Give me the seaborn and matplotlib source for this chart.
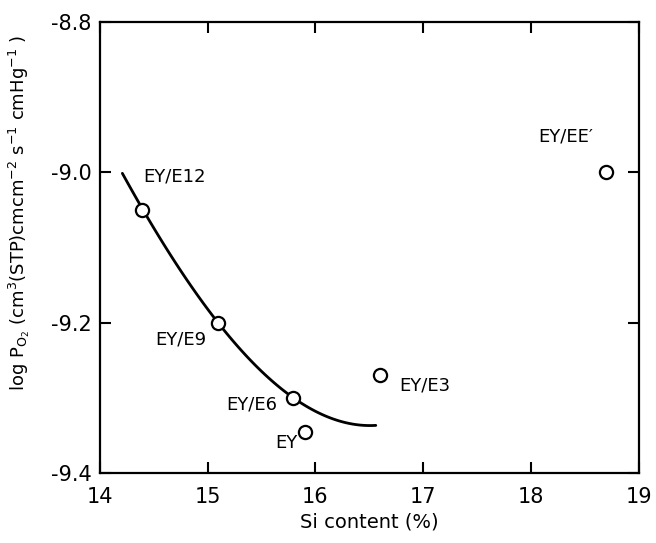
import matplotlib
matplotlib.use("Agg")
import matplotlib.pyplot as plt
import seaborn as sns
import pandas as pd

# Membrane samples: Si content (%) and log O2 permeability
samples = ["EY/E12", "EY/E9", "EY/E6", "EY", "EY/E3", "EY/EE\u2032"]
si_content = [14.39, 15.10, 15.79, 15.90, 16.60, 18.69]
log_po2 = [-9.05, -9.20, -9.30, -9.345, -9.27, -9.00]

# Trend curve through the EY/E series
curve_si = [14.21, 14.39, 14.71, 15.10, 15.39, 15.79, 16.16, 16.56]
curve_po2 = [-9.00, -9.05, -9.12, -9.20, -9.25, -9.30, -9.327, -9.337]

# Label anchor positions (data coords) and alignment
label_pos = [(14.40, -9.006, "left"), (14.99, -9.222, "right"),
             (15.65, -9.309, "right"), (15.83, -9.36, "right"),
             (16.78, -9.283, "left"), (18.58, -8.952, "right")]

sns.set_theme(style="ticks")
plt.rcParams["font.family"] = ["DejaVu Sans"]
plt.rcParams["axes.unicode_minus"] = False
plt.rcParams["mathtext.default"] = "regular"

fig = plt.figure(figsize=(6.56, 5.43), dpi=100)
ax = fig.add_axes([0.152, 0.129, 0.822, 0.8305])

df = pd.DataFrame({"si": si_content, "po2": log_po2, "name": samples})
curve = pd.DataFrame({"si": curve_si, "po2": curve_po2})

sns.regplot(data=curve, x="si", y="po2", order=3, scatter=False, ci=None,
            truncate=True, ax=ax, line_kws={"color": "black", "lw": 2.0})
sns.scatterplot(data=df, x="si", y="po2", ax=ax, s=90, marker="o",
                facecolor="white", edgecolor="black", linewidth=1.6, zorder=5)

for name, (lx, ly, ha) in zip(samples, label_pos):
    ax.text(lx, ly, name, ha=ha, va="center", fontsize=13, color="black")

ax.set_xlim(14, 19)
ax.set_ylim(-9.4, -8.8)
ax.set_xticks([14, 15, 16, 17, 18, 19])
ax.set_yticks([-9.4, -9.2, -9.0, -8.8])
ax.set_yticklabels(["-9.4", "-9.2", "-9.0", "-8.8"])
ax.tick_params(direction="in", length=8, width=1.5, labelsize=15,
               top=True, right=True, colors="black", pad=6)
ax.tick_params(axis="x", pad=10)
for s in ax.spines.values():
    s.set_linewidth(1.6)
    s.set_color("black")

ax.set_xlabel("Si content (%)", fontsize=14, labelpad=4, color="black")
ax.set_ylabel(r"log P$_{O_2}$ (cm$^3$(STP)cmcm$^{-2}$ s$^{-1}$ cmHg$^{-1}$ )",
              fontsize=13, color="black")
ax.yaxis.set_label_coords(-0.125, 0.576)

fig.savefig("out.png", dpi=100, facecolor="white")
